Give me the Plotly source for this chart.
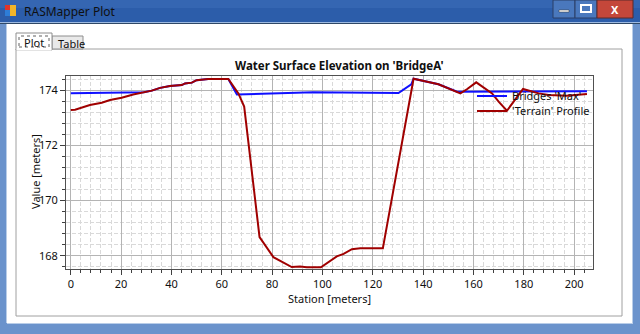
import plotly.graph_objects as go

# ---------------- data ----------------
terrain_station = [0, 1.7, 7.6, 12.3, 15.6, 20.2, 24.8, 32.2, 35.5, 39.4, 44.1, 45.4, 48.1, 50.0,
                   54.6, 62.6, 66.6, 68.9, 75.0, 80.5, 87.8, 91.1, 93.8, 99.4, 105.7, 108.4,
                   111.7, 115.0, 124.0, 130.2, 136.2, 146.1, 154.8, 157.4, 161.1, 167.4, 170.0,
                   173.3, 179.7, 185.9, 189.9, 197.1, 205.1]
terrain_elev = [173.29, 173.30, 173.47, 173.55, 173.65, 173.73, 173.85, 173.99, 174.09, 174.16,
                174.19, 174.25, 174.28, 174.37, 174.41, 174.41, 173.89, 173.41, 168.68, 167.95,
                167.59, 167.61, 167.58, 167.58, 167.98, 168.07, 168.24, 168.27, 168.27, 171.47,
                174.42, 174.22, 173.89, 174.04, 174.29, 173.89, 173.59, 173.26, 174.05, 173.89,
                173.83, 173.80, 173.87]

bridge_station = [0, 29.0, 32.2, 35.5, 39.4, 44.1, 45.4, 48.1, 50.0, 54.6, 62.6, 66.0, 96.4,
                  130.2, 135.3, 136.2, 146.1, 153.5, 205.1]
bridge_elev = [173.89, 173.93, 173.99, 174.09, 174.16, 174.19, 174.25, 174.28, 174.37, 174.41,
               174.41, 173.85, 173.93, 173.90, 174.22, 174.42, 174.22, 173.95, 173.97]

chart_title = "Water Surface Elevation on 'BridgeA'"
x_title = "Station [meters]"
y_title = "Value [meters]"
bridge_name = "Bridges 'Max'"
terrain_name = "'Terrain' Profile"
window_title = "RASMapper Plot"
tab_names = ["Plot", "Table"]

# ---------------- layout helpers (pixel -> paper) ----------------
L, R, T, B = 66, 593, 76, 269
W, H = R - L, B - T


def px(x):
    return (x - L) / W


def py(y):
    return (B - y) / H


FONT = "Noto Sans"

fig = go.Figure()
fig.add_trace(go.Scatter(x=bridge_station, y=bridge_elev, mode="lines", name=bridge_name,
                         legend="legend", line=dict(color="#1010FF", width=2)))
fig.add_trace(go.Scatter(x=terrain_station, y=terrain_elev, mode="lines", name=terrain_name,
                         legend="legend2", line=dict(color="#A00000", width=2)))

shapes = []


def rect(x0, y0, x1, y1, fill, line=None, lw=1, dash=None, layer="below"):
    d = dict(type="rect", xref="paper", yref="paper", x0=px(x0), x1=px(x1), y0=py(y1), y1=py(y0),
             fillcolor=fill, layer=layer, line=dict(width=0))
    if line:
        d["line"] = dict(color=line, width=lw)
        if dash:
            d["line"]["dash"] = dash
    shapes.append(d)


def hline(x0, x1, y, color, lw=1):
    shapes.append(dict(type="line", xref="paper", yref="paper", x0=px(x0), x1=px(x1), y0=py(y),
                       y1=py(y), line=dict(color=color, width=lw), layer="below"))


def vline(x, y0, y1, color, lw=1):
    shapes.append(dict(type="line", xref="paper", yref="paper", x0=px(x), x1=px(x), y0=py(y0),
                       y1=py(y1), line=dict(color=color, width=lw), layer="below"))


# window frame
rect(0, 0, 640, 22, "#2C5DAA")
rect(0, 0, 640, 8, "#3566B2")
hline(0, 640, 22.5, "#9DB9E0")
hline(0, 640, 23.5, "#2F4866")
rect(7, 24, 632, 323, "#FFFFFF")
vline(6.5, 24, 323, "#B9CDE8")
vline(632.5, 24, 323, "#B9CDE8")
hline(7, 633, 323.5, "#B9CDE8")
# tab page
rect(16, 49, 622, 316, "#FFFFFF", line="#A0A0A0")
# tabs
rect(52, 36, 83, 49, "#E9E9E9", line="#8E8E8E")
rect(16, 33, 52, 50, "#FFFFFF", line="#8E8E8E")
hline(16.5, 51.5, 49.5, "#FFFFFF", lw=2)
rect(19, 36, 49, 47, "rgba(0,0,0,0)", line="#606060", dash="dot")
# window buttons
rect(553, 0, 575, 18, "#4A78BD", line="#2A3F66")
rect(575, 0, 597, 18, "#4A78BD", line="#2A3F66")
rect(597, 0, 633, 18, "#C4473A", line="#5A2A2A")
rect(559, 10, 569, 12, "#FFFFFF", line="#333333", lw=0.5)
rect(581, 5, 591, 12, "rgba(0,0,0,0)", line="#FFFFFF", lw=2)
# window icon
rect(5, 5, 10, 10, "#E0342A")
rect(10, 5, 16, 10, "#F2B529")
rect(5, 10, 10, 16, "#2E7DD7")
rect(10, 10, 16, 16, "#F2B529")

annotations = [
    dict(text=window_title, xref="paper", yref="paper", x=px(22), y=py(12), xanchor="left",
         yanchor="middle", showarrow=False, font=dict(family=FONT, size=12, color="#101010")),
    dict(text="<b>X</b>", xref="paper", yref="paper", x=px(615), y=py(9), xanchor="center",
         yanchor="middle", showarrow=False, font=dict(family=FONT, size=11, color="#FFFFFF")),
    dict(text=tab_names[0], xref="paper", yref="paper", x=px(22), y=py(42), xanchor="left",
         yanchor="middle", showarrow=False, font=dict(family=FONT, size=11, color="#101010")),
    dict(text=tab_names[1], xref="paper", yref="paper", x=px(56), y=py(43), xanchor="left",
         yanchor="middle", showarrow=False, font=dict(family=FONT, size=11, color="#101010")),
    dict(text="<b>" + chart_title + "</b>", xref="paper", yref="paper", x=px(339), y=py(65),
         xanchor="center", yanchor="middle", showarrow=False,
         font=dict(family=FONT, size=11.5, color="#101010")),
    dict(text=x_title, xref="paper", yref="paper", x=px(329), y=py(298), xanchor="center",
         yanchor="middle", showarrow=False, font=dict(family=FONT, size=11, color="#101010")),
    dict(text=y_title, xref="paper", yref="paper", x=px(35), y=py(172), xanchor="center",
         yanchor="middle", showarrow=False, textangle=-90,
         font=dict(family=FONT, size=11, color="#101010")),
]

axis_common = dict(showline=True, linecolor="#505050", linewidth=1, mirror=True,
                   ticks="outside", ticklen=5, tickcolor="#404040", zeroline=False,
                   showgrid=True, gridcolor="#B4B4B4", gridwidth=1,
                   tickfont=dict(family=FONT, size=11, color="#101010"))

legend_common = dict(xanchor="left", yanchor="middle", bgcolor="rgba(0,0,0,0)",
                     font=dict(family=FONT, size=11, color="#101010"), itemwidth=30,
                     borderwidth=0)

fig.update_layout(
    width=640, height=334,
    margin=dict(l=L, r=640 - R, t=T, b=334 - B, pad=0),
    paper_bgcolor="#6B93CC",
    plot_bgcolor="#FFFFFF",
    showlegend=True,
    legend=dict(x=px(472), y=py(96), **legend_common),
    legend2=dict(x=px(472), y=py(111), **legend_common),
    xaxis=dict(range=[-1.9, 207.5], dtick=20, tick0=0,
               minor=dict(dtick=4, tick0=0, ticks="outside", ticklen=3, tickcolor="#404040",
                          showgrid=True, gridcolor="#D9D9D9", griddash="4px,2px"),
               **axis_common),
    yaxis=dict(range=[167.52, 174.52], dtick=2, tick0=168,
               minor=dict(dtick=0.4, tick0=168, ticks="outside", ticklen=3, tickcolor="#404040",
                          showgrid=True, gridcolor="#D9D9D9", griddash="4px,2px"),
               **axis_common),
    shapes=shapes,
    annotations=annotations,
)

fig.write_html("out.html")
